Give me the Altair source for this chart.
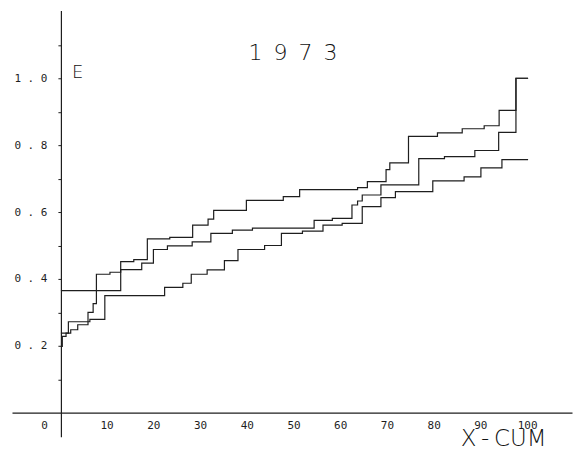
import altair as alt
import pandas as pd

# ---- data ----
title_text = "1973"
y_label_text = "E"
x_label_text = "X-CUM"

x_ticks = [0, 10, 20, 30, 40, 50, 60, 70, 80, 90, 100]
y_ticks = [0.1, 0.2, 0.3, 0.4, 0.5, 0.6, 0.7, 0.8, 0.9, 1.0, 1.1]

c_x = [0, 12.8, 15.6, 18.5, 23.3, 28.2, 31.5, 32.7, 39.7, 47.6, 51.1, 63.5, 65.6,
       69.6, 70.4, 74.4, 80.6, 85.9, 90.6, 93.8, 97.4, 100]
c_y = [0.365, 0.452, 0.458, 0.520, 0.524, 0.561, 0.579, 0.605, 0.635, 0.646, 0.667,
       0.673, 0.691, 0.727, 0.747, 0.826, 0.837, 0.849, 0.858, 0.904, 1.0, 1.0]

m_x = [0, 0.3, 1.1, 2.1, 3.6, 5.8, 6.9, 7.6, 10.5, 12.8, 17.3, 19.8, 22.8, 28.1,
       32.1, 36.7, 41.0, 54.2, 58.1, 62.3, 63.5, 64.5, 68.5, 76.6, 82.1, 88.6, 93.7,
       97.4, 100]
m_y = [0.198, 0.228, 0.238, 0.248, 0.263, 0.300, 0.326, 0.414, 0.420, 0.428, 0.447,
       0.488, 0.499, 0.511, 0.536, 0.546, 0.552, 0.575, 0.581, 0.621, 0.633, 0.651,
       0.681, 0.760, 0.766, 0.784, 0.838, 1.0, 1.0]

l_x = [0, 1.6, 6.2, 9.4, 22.2, 26.1, 27.9, 31.3, 35.0, 37.9, 43.6, 47.2, 51.7, 56.1,
       60.2, 64.5, 68.5, 71.6, 79.6, 86.3, 89.9, 94.4, 100]
l_y = [0.238, 0.272, 0.279, 0.350, 0.375, 0.387, 0.414, 0.427, 0.455, 0.488, 0.500,
       0.536, 0.543, 0.561, 0.566, 0.616, 0.643, 0.661, 0.693, 0.705, 0.732, 0.757,
       0.757]

rows = []
for name, xs, ys in [("C", c_x, c_y), ("M", m_x, m_y), ("L", l_x, l_y)]:
    for xv, yv in zip(xs, ys):
        rows.append({"series": name, "x": xv, "y": yv})
df = pd.DataFrame(rows)

INK = "#1e1e1e"

x_scale = alt.Scale(domain=[-10.47, 109.4], nice=False, zero=False)
y_scale = alt.Scale(domain=[-0.0716, 1.203], nice=False, zero=False)

lines = alt.Chart(df).mark_line(
    interpolate="step-after", color=INK, strokeWidth=1.2
).encode(
    x=alt.X("x:Q", scale=x_scale, axis=alt.Axis(
        values=x_ticks, offset=-24, ticks=False, grid=False, title=None,
        domainColor=INK, domainWidth=1.2,
        labelFont="DejaVu Sans Mono", labelFontSize=11, labelColor=INK,
        labelPadding=7, labelFlush=False, labelOverlap=False, format="d",
        labelOffset={"condition": {"test": "datum.value === 0", "value": -17}, "value": -1},
    )),
    y=alt.Y("y:Q", scale=y_scale, axis=alt.Axis(
        values=y_ticks, offset=-49, grid=False, title=None,
        domainColor=INK, domainWidth=1.2, tickColor=INK, tickSize=3,
        labelFont="DejaVu Sans Mono", labelFontSize=11, labelColor=INK,
        labelPadding=11, labelFlush=False, labelOverlap=False,
        labelExpr="round(datum.value*10) % 2 == 0 ? replace(format(datum.value, '.1f'), '.', ' . ') : ''",
    )),
    detail="series:N",
)

title = alt.Chart(pd.DataFrame({"t": ["\u2002".join(title_text)]})).mark_text(
    font="DejaVu Sans", fontSize=22, fontWeight=200, color="#111111",
    align="center", baseline="middle"
).encode(text="t:N", x=alt.value(281.5), y=alt.value(43))

e_lab = alt.Chart(pd.DataFrame({"t": [y_label_text]})).mark_text(
    font="DejaVu Sans", fontSize=18, fontWeight=200, color="#111111",
    align="center", baseline="middle"
).encode(text="t:N", x=alt.value(65.8), y=alt.value(62.5))

x_lab = alt.Chart(pd.DataFrame({"t": [x_label_text.replace("-", "\u2009-\u2009")]})).mark_text(
    font="DejaVu Sans", fontSize=23, fontWeight=200, color="#111111",
    align="center", baseline="middle"
).encode(text="t:N", x=alt.value(492.5), y=alt.value(429.5))

chart = alt.layer(lines, title, e_lab, x_lab).properties(
    width=561, height=427,
    autosize=alt.AutoSizeParams(type="none"),
    padding={"left": 4, "top": 2, "right": 4, "bottom": 15},
    background="white",
).configure_view(stroke=None)

chart.save("out.html", embed_options={"renderer": "svg", "actions": False})
